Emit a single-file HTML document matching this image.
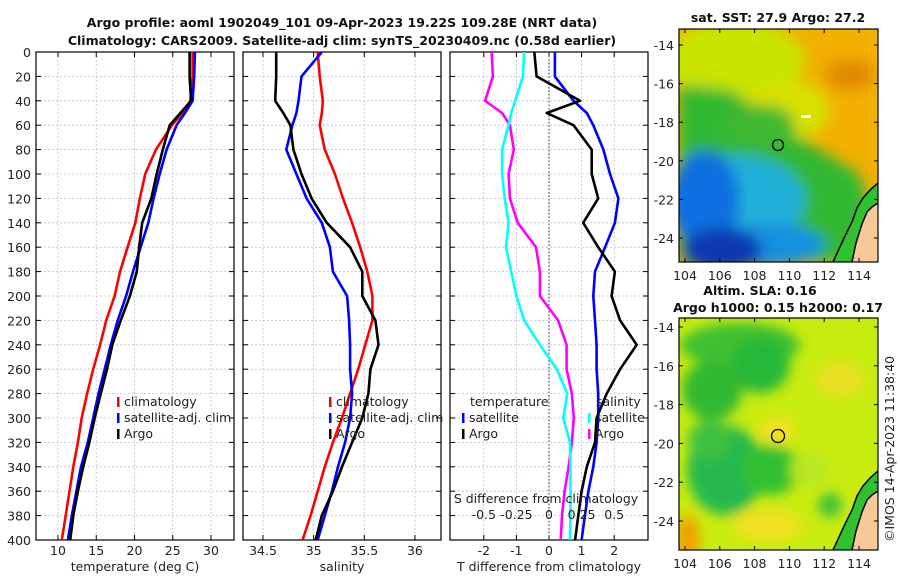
<!DOCTYPE html>
<html><head><meta charset="utf-8">
<style>
body{margin:0;background:#fff;}
svg{display:block;font-family:"DejaVu Sans","Liberation Sans",sans-serif;}
.t{font-size:12.5px;fill:#222;}
.b{font-size:12.5px;font-weight:bold;fill:#111;}
</style></head>
<body>
<svg id="root" width="900" height="580" viewBox="0 0 900 580">
<defs>
<filter id="bl" x="-50%" y="-50%" width="200%" height="200%"><feGaussianBlur stdDeviation="7"/></filter>
<filter id="bl2" x="-50%" y="-50%" width="200%" height="200%"><feGaussianBlur stdDeviation="6"/></filter>
<clipPath id="c1"><rect x="679" y="29" width="199" height="233"/></clipPath>
<clipPath id="c2"><rect x="679" y="318" width="199" height="232"/></clipPath>
<clipPath id="p1"><rect x="36" y="52" width="198" height="488"/></clipPath>
<clipPath id="p2"><rect x="243" y="52" width="198" height="488"/></clipPath>
<clipPath id="p3"><rect x="450" y="52" width="198" height="488"/></clipPath>
</defs>
<text class="b" x="342" y="27" text-anchor="middle">Argo profile: aoml 1902049_101 09-Apr-2023 19.22S 109.28E (NRT data)</text>
<text class="b" x="342" y="45" text-anchor="middle">Climatology: CARS2009. Satellite-adj clim: synTS_20230409.nc (0.58d earlier)</text>

<!-- SST map -->
<g clip-path="url(#c1)">
<rect x="679" y="29" width="199" height="233" fill="#f2b000"/>
<g filter="url(#bl)">
<ellipse cx="735" cy="60" rx="70" ry="40" fill="#c8e400"/>
<ellipse cx="790" cy="110" rx="40" ry="30" fill="#d8e000"/>
<path d="M679,85 L730,90 L770,120 L820,150 L860,175 L878,240 L878,262 L679,262Z" fill="#30b830"/>
<ellipse cx="760" cy="125" rx="35" ry="20" fill="#40b830"/>
<ellipse cx="735" cy="200" rx="70" ry="45" fill="#20b0d8"/>
<ellipse cx="705" cy="200" rx="35" ry="50" fill="#1070e0"/>
<ellipse cx="765" cy="245" rx="60" ry="22" fill="#1890e0"/>
<ellipse cx="722" cy="250" rx="40" ry="22" fill="#0838b0"/>
<ellipse cx="850" cy="75" rx="25" ry="15" fill="#e08a00"/>
</g>
<path d="M833,262 L845,236 L852,222 L857,208 L863,198 L870,190 L878,183 L878,262Z" fill="#30c030"/>
<path d="M852,262 L856,243 L862,224 L867,212 L872,207 L878,203 L878,262Z" fill="#f8c898"/>
<path d="M833,262 L845,236 L852,222 L857,208 L863,198 L870,190 L878,183" fill="none" stroke="#000" stroke-width="1.5"/>
<path d="M852,262 L856,243 L862,224 L867,212 L872,207 L878,203" fill="none" stroke="#000" stroke-width="1.5"/>
<rect x="801" y="115" width="10" height="3" fill="#fff"/>
<circle cx="778" cy="145" r="5.5" fill="none" stroke="#000" stroke-width="1.3"/>
</g>
<rect x="679" y="29" width="199" height="233" fill="none" stroke="#000" stroke-width="1.2"/>
<text class="b" x="778" y="22" text-anchor="middle">sat. SST: 27.9 Argo: 27.2</text>

<!-- SLA map -->
<g clip-path="url(#c2)">
<rect x="679" y="318" width="199" height="232" fill="#c8ec10"/>
<g filter="url(#bl2)">
<ellipse cx="740" cy="345" rx="60" ry="22" fill="#40c030"/>
<ellipse cx="760" cy="365" rx="30" ry="28" fill="#28b838"/>
<ellipse cx="712" cy="390" rx="30" ry="30" fill="#30b830"/>
<ellipse cx="725" cy="470" rx="38" ry="45" fill="#28b850"/>
<ellipse cx="770" cy="470" rx="30" ry="25" fill="#30c030"/>
<ellipse cx="710" cy="440" rx="22" ry="20" fill="#40c040"/>
<ellipse cx="778" cy="430" rx="18" ry="15" fill="#f0e020"/>
<ellipse cx="840" cy="380" rx="25" ry="18" fill="#e8e020"/>
<ellipse cx="768" cy="525" rx="35" ry="16" fill="#f0e020"/>
<ellipse cx="688" cy="540" rx="12" ry="25" fill="#f0a000"/>
<ellipse cx="830" cy="505" rx="12" ry="12" fill="#40c040"/>
<ellipse cx="810" cy="470" rx="20" ry="18" fill="#b8e820"/>
</g>
<path d="M833,550 L845,524 L852,510 L857,496 L863,486 L870,478 L878,471 L878,550Z" fill="#30c030"/>
<path d="M852,550 L856,531 L862,512 L867,500 L872,495 L878,491 L878,550Z" fill="#f8c898"/>
<path d="M833,550 L845,524 L852,510 L857,496 L863,486 L870,478 L878,471" fill="none" stroke="#000" stroke-width="1.5"/>
<path d="M852,550 L856,531 L862,512 L867,500 L872,495 L878,491" fill="none" stroke="#000" stroke-width="1.5"/>
<circle cx="778" cy="436" r="6.5" fill="none" stroke="#000" stroke-width="1.3"/>
</g>
<rect x="679" y="318" width="199" height="232" fill="none" stroke="#000" stroke-width="1.2"/>
<text class="b" x="760" y="295" text-anchor="middle">Altim. SLA: 0.16</text>
<text class="b" x="778" y="312" text-anchor="middle">Argo h1000: 0.15 h2000: 0.17</text>
<text class="t" x="0" y="0" transform="translate(894,542) rotate(-90)">©IMOS 14-Apr-2023 11:38:40</text>
<g id="axes"></g>
</svg>
<script>
// ---- data ----
const depths = [0,20,40,50,60,80,100,120,140,160,180,200,220,240,260,280,300,320,340,360,380,400];
const tempClim = [27.6,27.6,27.3,26.3,24.9,22.8,21.4,20.7,20.1,19.1,18.1,17.4,16.3,15.5,14.6,13.8,13.1,12.6,12.0,11.5,11.0,10.5];
const tempSat  = [27.9,27.8,27.6,26.6,25.5,24.2,23.3,22.5,21.8,20.8,19.8,18.9,17.8,16.9,16.1,15.3,14.6,13.9,13.0,12.4,11.8,11.3];
const tempArgo = [27.2,27.2,27.4,26.0,24.6,23.7,22.9,22.2,21.0,20.6,20.3,19.4,18.2,17.1,16.4,15.6,14.8,14.1,13.3,12.6,12.0,11.6];
const salClim = [35.04,35.06,35.09,35.08,35.06,35.11,35.21,35.29,35.38,35.46,35.53,35.58,35.58,35.51,35.44,35.36,35.28,35.19,35.11,35.04,34.97,34.89];
const salSat  = [35.08,34.88,34.85,34.83,34.79,34.73,34.83,34.93,35.08,35.16,35.19,35.33,35.35,35.36,35.36,35.38,35.36,35.31,35.24,35.18,35.11,35.04];
const salArgo = [34.63,34.63,34.62,34.70,34.77,34.80,34.88,34.98,35.13,35.36,35.48,35.48,35.61,35.64,35.56,35.54,35.48,35.38,35.28,35.19,35.08,35.02];
const dTsat  = [0.18,0.18,0.75,1.16,1.36,1.67,1.87,2.13,2.02,1.72,1.41,1.36,1.41,1.46,1.46,1.51,1.51,1.46,1.36,1.21,1.10,1.00];
const dTargo = [-0.45,-0.38,0.95,-0.07,0.75,1.31,1.31,1.51,1.05,1.51,2.02,1.92,2.18,2.69,2.18,1.77,1.46,1.41,1.16,1.00,0.90,0.80];
const dSsat  = [-0.19,-0.20,-0.26,-0.29,-0.31,-0.36,-0.36,-0.34,-0.31,-0.33,-0.29,-0.25,-0.19,-0.07,0.06,0.14,0.11,0.16,0.165,0.165,0.165,0.16];
const dSargo = [-0.44,-0.43,-0.49,-0.36,-0.30,-0.27,-0.31,-0.30,-0.24,-0.10,-0.07,-0.07,0.07,0.135,0.135,0.175,0.19,0.175,0.15,0.12,0.10,0.09];
const depthTicks = [0,20,40,60,80,100,120,140,160,180,200,220,240,260,280,300,320,340,360,380,400];
const tempTicks = [10,15,20,25,30];
const salTicks = [34.5,35,35.5,36];
const dTTicks = [-2,-1,0,1,2];
const dSTicks = [-0.5,-0.25,0,0.25,0.5];
const latTicks = [-14,-16,-18,-20,-22,-24];
const lonTicks = [104,106,108,110,112,114];

const NS = 'http://www.w3.org/2000/svg';
const G = document.getElementById('axes');
function mk(tag, attrs, parent){const e=document.createElementNS(NS,tag);for(const k in attrs)e.setAttribute(k,attrs[k]);(parent||G).appendChild(e);return e;}
const Y0=52, Y1=540;
const yD = d => Y0 + d*(Y1-Y0)/400;
const xT = v => 58 + (v-10)*7.65;
const xS = v => 263 + (v-34.5)*101.3;
const xdT = v => 549 + v*32.6;
const xdS = v => 549 + v*130.4;
const latTop = v => 45 + (-14-v)*19.3;
const latBot = v => 327 + (-14-v)*19.4;
const lonX = v => 685 + (v-104)*17.4;

function panel(x0,w,name,xf,ticks,label,tickFmt){
  const g=mk('g',{});
  
  
  depthTicks.forEach(d=>{mk('line',{x1:x0,x2:x0+w,y1:yD(d),y2:yD(d),stroke:'#b8c0dc','stroke-width':0.8,'stroke-dasharray':'2,2'},g);
    mk('line',{x1:x0,x2:x0+5,y1:yD(d),y2:yD(d),stroke:'#000'},g);mk('line',{x1:x0+w-5,x2:x0+w,y1:yD(d),y2:yD(d),stroke:'#000'},g);});
  ticks.forEach(t=>{const x=xf(t);mk('line',{x1:x,x2:x,y1:Y0,y2:Y1,stroke:'#b8c0dc','stroke-width':0.8,'stroke-dasharray':'2,2'},g);
    mk('line',{x1:x,x2:x,y1:Y1-5,y2:Y1,stroke:'#000'},g);mk('line',{x1:x,x2:x,y1:Y0,y2:Y0+5,stroke:'#000'},g);
    const tl=mk('text',{x:x,y:Y1+15,'text-anchor':'middle',class:'t'},g);tl.textContent=tickFmt?tickFmt(t):t;
    
    });
  mk('rect',{x:x0,y:Y0,width:w,height:Y1-Y0,fill:'none',stroke:'#000','stroke-width':1.2},g);
  const lb=mk('text',{x:x0+w/2,y:571,'text-anchor':'middle',class:'t'},g);lb.textContent=label;
  
  
  return g;
}
function line(g,xs,xf,col,clip,name){
  const d=xs.map((v,i)=>(i?'L':'M')+xf(v).toFixed(1)+','+yD(depths[i]).toFixed(1)).join('');
  const p=mk('path',{d:d,fill:'none',stroke:col,'stroke-width':2.6,'stroke-linejoin':'round','clip-path':'url(#'+clip+')'},g);
  
  
}
function legend(g,x,y,items){
  items.forEach((it,i)=>{mk('rect',{x:x,y:y+i*16-9,width:2.5,height:10,fill:it[1]},g);
    const t=mk('text',{x:x+7,y:y+i*16,class:'t'},g);t.textContent=it[0];
    
    });
}
depthTicks.forEach(d=>{const t=mk('text',{x:31,y:yD(d)+5,'text-anchor':'end',class:'t'});t.textContent=d;
  
  });

const g1=panel(36,198,'temperature-panel',xT,tempTicks,'temperature (deg C)');
line(g1,tempClim,xT,'#f00','p1','temp-climatology-line');
line(g1,tempSat,xT,'#00f','p1','temp-satellite-line');
line(g1,tempArgo,xT,'#000','p1','temp-argo-line');
legend(g1,117,406,[['climatology','#f00'],['satellite-adj. clim','#00f'],['Argo','#000']]);

const g2=panel(243,198,'salinity-panel',xS,salTicks,'salinity');
line(g2,salClim,xS,'#f00','p2','sal-climatology-line');
line(g2,salSat,xS,'#00f','p2','sal-satellite-line');
line(g2,salArgo,xS,'#000','p2','sal-argo-line');
legend(g2,329,406,[['climatology','#f00'],['satellite-adj. clim','#00f'],['Argo','#000']]);

const g3=panel(450,198,'difference-panel',xdT,dTTicks,'T difference from climatology');
mk('line',{x1:549,x2:549,y1:Y0,y2:Y1,stroke:'#333','stroke-width':1,'stroke-dasharray':'1.5,2'},g3);
line(g3,dSargo,xdS,'#f0f','p3','sal-diff-argo-line');
line(g3,dSsat,xdS,'#0ff','p3','sal-diff-satellite-line');
line(g3,dTsat,xdT,'#00f','p3','temp-diff-satellite-line');
line(g3,dTargo,xdT,'#000','p3','temp-diff-argo-line');
const th=mk('text',{x:470,y:406,class:'t'},g3);th.textContent='temperature';


const sh=mk('text',{x:596,y:406,class:'t'},g3);sh.textContent='salinity';


legend(g3,462,422,[['satellite','#00f'],['Argo','#000']]);
legend(g3,588,422,[['satellite','#0ff'],['Argo','#f0f']]);
const sl=mk('text',{x:546,y:503,'text-anchor':'middle',class:'t'},g3);sl.textContent='S difference from climatology';


dSTicks.forEach(t=>{const e=mk('text',{x:xdS(t),y:519,'text-anchor':'middle',class:'t'},g3);e.textContent=t;
  
  });

function mapAxes(lat,y0,y1,lonY){
  latTicks.forEach(v=>{const y=lat(v);mk('line',{x1:874,x2:878,y1:y,y2:y,stroke:'#000'});mk('line',{x1:679,x2:683,y1:y,y2:y,stroke:'#000'});
    const t=mk('text',{x:674,y:y+5,'text-anchor':'end',class:'t'});t.textContent=v;
    
    });
  lonTicks.forEach(v=>{const x=lonX(v);mk('line',{x1:x,x2:x,y1:y1-4,y2:y1,stroke:'#000'});mk('line',{x1:x,x2:x,y1:y0,y2:y0+4,stroke:'#000'});
    const t=mk('text',{x:x,y:lonY,'text-anchor':'middle',class:'t'});t.textContent=v;
    
    });
}
mapAxes(latTop,29,262,280);
mapAxes(latBot,318,550,568);
</script>
</body></html>
